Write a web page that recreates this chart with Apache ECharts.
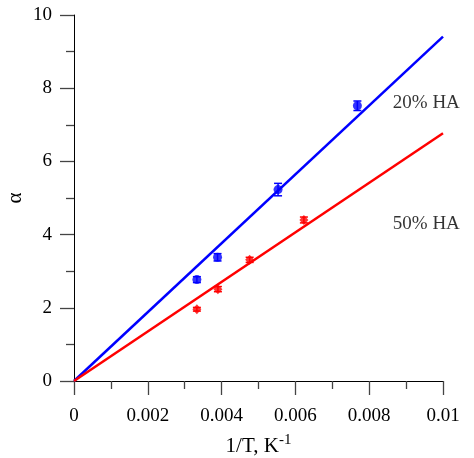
<!DOCTYPE html>
<html>
<head>
<meta charset="utf-8">
<script src="https://cdn.jsdelivr.net/npm/echarts@6/dist/echarts.min.js"></script>
<style>
  html, body { margin: 0; padding: 0; background: #fff; }
  #chart { width: 474px; height: 458px; }
</style>
</head>
<body>
<div id="chart"></div>
<script>
// 20% HA (blue circles)
const x20 = [0.00333, 0.00389, 0.00553, 0.00768];
const y20 = [2.77, 3.38, 5.23, 7.52];
const err20 = [0.08, 0.1, 0.17, 0.13];
// 50% HA (red diamonds)
const x50 = [0.00333, 0.0039, 0.00476, 0.00623];
const y50 = [1.96, 2.51, 3.31, 4.40];
const err50 = [0.05, 0.07, 0.07, 0.08];
// fit lines through the origin, value at x = 0.01
const fitX = [0, 0.01];
const fit20 = [0, 9.41];
const fit50 = [0, 6.77];
// line labels
const seriesNames = ['20% HA', '50% HA'];
const nameX = [0.00864, 0.00864];
const nameY = [7.6, 4.29];

const font = '"Liberation Serif", "Times New Roman", serif';
const BLUE = '#0000ff';
const RED = '#ff0000';

const zip = (xs, ys) => xs.map((x, i) => [x, ys[i]]);
const zip3 = (xs, ys, es) => xs.map((x, i) => [x, ys[i], es[i]]);

// capped vertical error bars
function errorBars(color) {
  return function (params, api) {
    const x = api.value(0), y = api.value(1), e = api.value(2);
    const top = api.coord([x, y + e]);
    const bot = api.coord([x, y - e]);
    const w = 4;
    const style = { stroke: color, lineWidth: 1.5 };
    return {
      type: 'group',
      children: [
        { type: 'line', shape: { x1: top[0], y1: top[1], x2: bot[0], y2: bot[1] }, style },
        { type: 'line', shape: { x1: top[0] - w, y1: top[1], x2: top[0] + w, y2: top[1] }, style },
        { type: 'line', shape: { x1: bot[0] - w, y1: bot[1], x2: bot[0] + w, y2: bot[1] }, style }
      ]
    };
  };
}

const chart = echarts.init(document.getElementById('chart'), null, { renderer: 'canvas' });

const option = {
  animation: false,
  backgroundColor: '#fff',
  textStyle: { fontFamily: font },
  grid: { left: 74, top: 15, right: 31, bottom: 77, containLabel: false, outerBoundsMode: 'none' },
  xAxis: {
    type: 'value',
    min: 0, max: 0.01, interval: 0.002,
    name: '1/T, K{sup|-1}',
    nameLocation: 'middle',
    nameGap: 52,
    nameMoveOverlap: false,
    nameTextStyle: {
      fontFamily: font, fontSize: 21, color: '#000',
      rich: { sup: { fontFamily: font, fontSize: 15, color: '#000', padding: [0, 0, 12, 0] } }
    },
    axisLine: { show: true, onZero: false, lineStyle: { color: '#000', width: 1 } },
    axisTick: { show: true, inside: false, length: 14, lineStyle: { color: '#444', width: 1.3 } },
    minorTick: { show: true, splitNumber: 2, length: 8, lineStyle: { color: '#444', width: 1.3 } },
    splitLine: { show: false },
    axisLabel: {
      margin: 26, fontFamily: font, fontSize: 19, color: '#000',
      formatter: v => v === 0 ? '0' : String(+v.toFixed(3))
    }
  },
  yAxis: {
    type: 'value',
    min: 0, max: 10, interval: 2,
    name: 'α',
    nameLocation: 'middle',
    nameGap: 48,
    nameMoveOverlap: false,
    nameTextStyle: { fontFamily: font, fontSize: 21, color: '#000' },
    axisLine: { show: true, onZero: false, lineStyle: { color: '#000', width: 1 } },
    axisTick: { show: true, inside: false, length: 14, lineStyle: { color: '#444', width: 1.3 } },
    minorTick: { show: true, splitNumber: 2, length: 8, lineStyle: { color: '#444', width: 1.3 } },
    splitLine: { show: false },
    axisLabel: { margin: 22, fontFamily: font, fontSize: 19, color: '#000' }
  },
  series: [
    {
      name: 'fit 20',
      type: 'line',
      data: zip(fitX, fit20),
      showSymbol: false,
      lineStyle: { color: BLUE, width: 2.5 },
      z: 2
    },
    {
      name: 'fit 50',
      type: 'line',
      data: zip(fitX, fit50),
      showSymbol: false,
      lineStyle: { color: RED, width: 2.5 },
      z: 2
    },
    {
      type: 'custom',
      renderItem: errorBars(BLUE),
      data: zip3(x20, y20, err20),
      z: 3
    },
    {
      type: 'custom',
      renderItem: errorBars(RED),
      data: zip3(x50, y50, err50),
      z: 3
    },
    {
      name: seriesNames[0],
      type: 'scatter',
      data: zip(x20, y20),
      symbol: 'circle',
      symbolSize: 9,
      itemStyle: { color: BLUE },
      z: 4
    },
    {
      name: seriesNames[1],
      type: 'scatter',
      data: zip(x50, y50),
      symbol: 'diamond',
      symbolSize: [9, 10],
      itemStyle: { color: RED },
      z: 4
    },
    {
      type: 'scatter',
      data: nameX.map((x, i) => ({ value: [x, nameY[i]], label: { formatter: seriesNames[i] } })),
      symbolSize: 0,
      label: {
        show: true, position: 'right', distance: 0,
        fontFamily: font, fontSize: 19, color: '#000'
      },
      silent: true,
      z: 5
    }
  ]
};

chart.setOption(option);
</script>
</body>
</html>
